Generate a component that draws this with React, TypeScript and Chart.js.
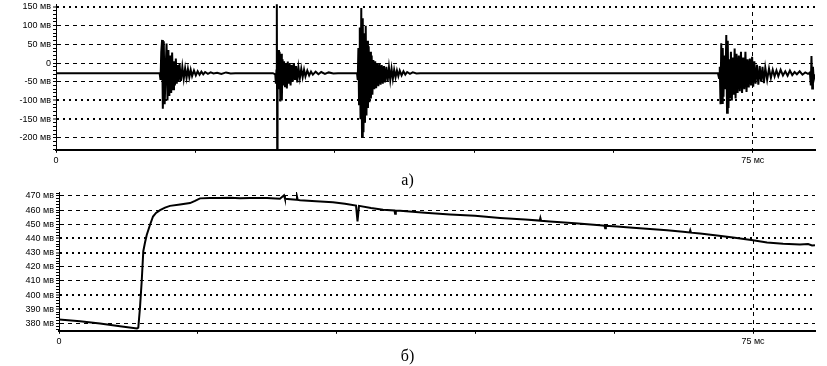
import React, { useEffect, useRef } from "react";
import { Chart, registerables } from "chart.js";

Chart.register(...registerables);

// ---------- data: top panel (а) — signal, mV vs ms ----------
const topStart: [number, number][] = [[0, -27]];
const burst1: [number, number][] = [
  [11.15, -27], [11.25, -45], [11.33, 30], [11.42, 62], [11.5, -122], [11.6, 58], [11.7, -110], [11.8, -20],
  [11.9, 52], [12.0, -100], [12.1, 35], [12.2, -88], [12.3, 20], [12.4, -80], [12.5, 28], [12.6, -70],
  [12.7, 5], [12.8, -60], [12.9, 12], [13.0, -55], [13.1, -5], [13.2, -50], [13.3, -2], [13.45, -48],
  [13.6, -10], [13.75, -42], [13.9, -14], [14.05, -40], [14.2, -16], [14.35, -38], [14.5, -18], [14.65, -35],
  [14.85, -20], [15.05, -33], [15.25, -22], [15.45, -31], [15.65, -23], [15.85, -30], [16.05, -24], [16.35, -29],
  [16.65, -25], [16.95, -28], [17.35, -26], [17.8, -29], [18.3, -25], [18.8, -28], [19.3, -27],
];
const burst2: [number, number][] = [
  [23.35, -27], [23.6, -30], [23.67, -55], [23.73, -20], [23.77, 157], [23.81, -232], [23.85, -40], [23.93, 35],
  [24.0, -70], [24.07, 30], [24.15, -103], [24.23, 25], [24.31, -100], [24.39, 10], [24.47, -60], [24.55, 5],
  [24.65, -62], [24.75, 0], [24.85, -68], [24.95, 4], [25.05, -55], [25.15, -2], [25.25, -60], [25.37, -5],
  [25.49, -50], [25.61, 0], [25.73, -45], [25.85, -8], [25.97, -52], [26.1, -12], [26.25, -40], [26.4, -15],
  [26.55, -38], [26.7, -18], [26.85, -36], [27.05, -20], [27.25, -33], [27.45, -23], [27.65, -31], [27.95, -23],
  [28.25, -30], [28.55, -24], [28.95, -29], [29.35, -25], [29.85, -28], [30.35, -27],
];
const burst3: [number, number][] = [
  [32.4, -27], [32.48, -45], [32.55, 40], [32.62, -110], [32.7, 95], [32.78, -150], [32.86, 147], [32.94, -197],
  [33.02, 120], [33.1, -185], [33.18, 80], [33.26, -160], [33.34, 100], [33.42, -140], [33.5, 60], [33.58, -120],
  [33.66, 45], [33.74, -105], [33.82, 30], [33.9, -95], [33.98, 20], [34.06, -85], [34.16, 8], [34.26, -70],
  [34.36, 5], [34.46, -67], [34.58, 0], [34.7, -62], [34.82, -2], [34.94, -58], [35.06, -5], [35.18, -55],
  [35.3, -8], [35.42, -52], [35.56, -10], [35.7, -48], [35.84, -12], [35.98, -45], [36.12, -15], [36.26, -42],
  [36.4, -18], [36.55, -38], [36.7, -20], [36.85, -35], [37.0, -20], [37.2, -33], [37.4, -22], [37.6, -31],
  [37.8, -24], [38.1, -29], [38.4, -25], [38.8, -28], [39.2, -27],
];
const burst4: [number, number][] = [
  [71.25, -27], [71.37, -40], [71.45, -10], [71.53, -110], [71.61, 53], [71.69, -107], [71.77, 40], [71.85, -90],
  [71.95, 20], [72.05, -70], [72.15, 75], [72.23, -133], [72.31, 60], [72.39, -120], [72.47, 10], [72.55, -95],
  [72.65, 30], [72.75, -100], [72.85, 15], [72.95, -85], [73.05, 39], [73.15, -95], [73.25, 25], [73.37, -80],
  [73.49, 20], [73.61, -75], [73.73, 30], [73.85, -80], [73.97, 15], [74.09, -70], [74.21, 30], [74.33, -77],
  [74.45, 10], [74.57, -65], [74.69, 12], [74.81, -60], [74.93, 17], [75.05, -63], [75.17, 5], [75.3, -55],
  [75.45, -5], [75.6, -58], [75.75, -8], [75.9, -50], [76.05, -10], [76.2, -54], [76.35, -12], [76.55, -45],
  [76.75, -15], [76.95, -40], [77.15, -18], [77.35, -36], [77.55, -20], [77.75, -35], [78.0, -18], [78.25, -33],
  [78.5, -22], [78.75, -34], [79.0, -20], [79.25, -32], [79.5, -24], [79.75, -30], [80.05, -22], [80.35, -31],
  [80.65, -25], [80.95, -29], [81.15, -25], [81.25, -60], [81.32, 19], [81.4, -68], [81.48, -10], [81.56, -45],
  [81.7, -30],
];

// ---------- data: bottom panel (б) — mV vs ms ----------
const bottomCurve: [number, number][] = [
  [0, 382.8], [2.27, 381.5], [4.43, 380], [6.59, 378], [8.43, 376.5], [8.57, 377], [8.75, 391], [8.94, 410],
  [9.11, 431], [9.29, 437], [9.48, 442.5], [9.83, 449.5], [10.16, 455.5], [10.48, 458], [10.92, 460],
  [11.46, 461.8], [11.99, 463], [13.08, 464], [14.16, 465], [14.7, 466.5], [15.24, 468.3], [16.32, 468.6],
  [17.4, 468.5], [18.48, 468.7], [19.56, 468.4], [20.64, 468.6], [22.48, 468.5], [23.88, 468], [24.32, 470.5],
  [24.42, 468], [25.65, 467.3], [25.72, 469.5], [25.8, 467.2], [26.05, 467], [27.77, 466.3], [29.6, 465.5],
  [30.9, 464.5], [32.1, 463.2], [32.26, 452], [32.42, 463], [33.72, 461.5], [35.02, 460.3], [36.25, 459.8],
  [36.32, 457.5], [36.4, 459.7], [36.85, 459.5], [39.55, 458.2], [42.26, 457], [44.96, 456], [47.66, 454.5],
  [50.36, 453.3], [51.95, 452.6], [52.02, 454.5], [52.1, 452.5], [53.06, 452], [55.77, 450.7], [58.46, 449.3],
  [58.95, 449], [59.02, 447.2], [59.1, 448.9], [60.3, 448.4], [62.03, 447.5], [63.87, 446.7], [65.71, 445.8],
  [67.44, 444.7], [68.15, 444.2], [68.22, 445.8], [68.3, 444.1], [69.28, 443.5], [71.11, 442.1], [72.84, 440.7],
  [75.0, 438.8], [76.52, 437.2], [78.25, 436.3], [80.08, 435.8], [80.95, 436], [81.38, 435], [81.7, 435.2],
];

// ---------- axes ----------
const X_MAX = 81.7;
const xTickValues = [0, 15, 30, 45, 60, 75];
const xTickLabels = ["0", "", "", "", "", "75 мс"];
const xGridValue = 75;

const topYMajor = [150, 100, 50, 0, -50, -100, -150, -200];
const topYLabels = ["150 мв", "100 мв", "50 мв", "0", "-50 мв", "-100 мв", "-150 мв", "-200 мв"];
const topYDotted = [true, false, false, false, false, true, true, false];

const bottomYMajor = [470, 460, 450, 440, 430, 420, 410, 400, 390, 380];
const bottomYLabels = ["470 мв", "460 мв", "450 мв", "440 мв", "430 мв", "420 мв", "410 мв", "400 мв", "390 мв", "380 мв"];
const bottomYDotted = [false, false, false, true, true, false, false, true, true, false];

const TICK_FONT = { family: '"Liberation Sans", Arial, sans-serif', size: 9 };

type PanelCfg = {
  points: [number, number][];
  yMin: number;
  yMax: number;
  majors: number[];
  labels: string[];
  dotted: boolean[];
  minorFrom: number;
  minorTo: number;
  minorStep: number;
  yAxisWidth: number;
  padTop: number;
  xAxisHeight: number;
  caption: string;
  lineWidth: number;
};

function buildChart(canvas: HTMLCanvasElement, cfg: PanelCfg) {
  const isMajor = (v: any) => cfg.majors.indexOf(v) >= 0;
  return new Chart(canvas, {
    type: "line",
    data: {
      datasets: [
        {
          data: cfg.points.map(([x, y]) => ({ x, y })),
          borderColor: "#000",
          backgroundColor: "#000",
          borderWidth: cfg.lineWidth,
          pointRadius: 0,
          tension: 0,
          fill: false,
        },
      ],
    },
    options: {
      animation: false,
      responsive: false,
      devicePixelRatio: 1,
      events: [],
      layout: { padding: { top: cfg.padTop, right: 12, left: 0, bottom: 0 } },
      plugins: {
        legend: { display: false },
        tooltip: { enabled: false },
        title: {
          display: true,
          text: cfg.caption,
          position: "bottom",
          color: "#000",
          font: { family: '"Liberation Serif", "Times New Roman", serif', size: 16, weight: "normal" },
          padding: { top: 0, bottom: 0 },
        },
      },
      scales: {
        x: {
          type: "linear",
          min: 0,
          max: X_MAX,
          afterBuildTicks: (scale: any) => {
            scale.ticks = xTickValues.map((v) => ({ value: v }));
          },
          afterFit: (scale: any) => {
            scale.height = cfg.xAxisHeight;
            scale.paddingLeft = 0;
            scale.paddingRight = 0;
          },
          ticks: {
            autoSkip: false,
            maxRotation: 0,
            padding: 2,
            color: "#000",
            font: TICK_FONT,
            callback: (value: any) => {
              const i = xTickValues.indexOf(value);
              return i >= 0 ? xTickLabels[i] : "";
            },
          },
          grid: {
            color: (ctx: any) => (ctx.tick && ctx.tick.value === xGridValue ? "#000" : "rgba(0,0,0,0)"),
            lineWidth: 1,
            tickColor: "#000",
            tickWidth: 1,
            tickLength: 3,
          },
          border: { display: true, color: "#000", width: 2, dash: [4, 4] },
        },
        y: {
          type: "linear",
          min: cfg.yMin,
          max: cfg.yMax,
          afterBuildTicks: (scale: any) => {
            const list: number[] = [];
            for (let v = cfg.minorFrom; v <= cfg.minorTo + 1e-9; v += cfg.minorStep) list.push(Math.round(v * 1000) / 1000);
            cfg.majors.forEach((m) => {
              if (list.indexOf(m) < 0) list.push(m);
            });
            list.sort((a, b) => a - b);
            scale.ticks = list.map((v) => ({ value: v }));
          },
          afterFit: (scale: any) => {
            scale.width = cfg.yAxisWidth;
            scale.paddingTop = 0;
            scale.paddingBottom = 0;
          },
          ticks: {
            autoSkip: false,
            padding: 2,
            color: "#000",
            font: TICK_FONT,
            callback: (value: any) => {
              const i = cfg.majors.indexOf(value);
              return i >= 0 ? cfg.labels[i] : "";
            },
          },
          grid: {
            color: (ctx: any) => (ctx.tick && isMajor(ctx.tick.value) ? "#000" : "rgba(0,0,0,0)"),
            lineWidth: (ctx: any) => {
              const i = ctx.tick ? cfg.majors.indexOf(ctx.tick.value) : -1;
              return i >= 0 && cfg.dotted[i] ? 2 : 1;
            },
            tickColor: "#000",
            tickWidth: 1,
            tickLength: 3,
          },
          border: {
            display: true,
            color: "#000",
            width: 1,
            dash: (ctx: any) => {
              const i = ctx && ctx.tick ? cfg.majors.indexOf(ctx.tick.value) : -1;
              return i >= 0 && cfg.dotted[i] ? [2, 4] : [4, 4];
            },
          },
        },
      },
    } as any,
  });
}

function Panel({ cfg, top, height }: { cfg: PanelCfg; top: number; height: number }) {
  const ref = useRef<HTMLCanvasElement | null>(null);
  useEffect(() => {
    if (!ref.current) return;
    const chart = buildChart(ref.current, cfg);
    return () => chart.destroy();
  }, []);
  return (
    <canvas
      ref={ref}
      width={827}
      height={height}
      style={{ position: "absolute", left: 0, top, width: 827, height, display: "block" }}
    />
  );
}

const topCfg: PanelCfg = {
  points: [...topStart, ...burst1, ...burst2, ...burst3, ...burst4],
  yMin: -232,
  yMax: 158,
  majors: topYMajor,
  labels: topYLabels,
  dotted: topYDotted,
  minorFrom: -230,
  minorTo: 150,
  minorStep: 10,
  yAxisWidth: 56,
  padTop: 4,
  xAxisHeight: 21,
  caption: "а)",
  lineWidth: 2,
};

const bottomCfg: PanelCfg = {
  points: bottomCurve,
  yMin: 374.8,
  yMax: 472.8,
  majors: bottomYMajor,
  labels: bottomYLabels,
  dotted: bottomYDotted,
  minorFrom: 376,
  minorTo: 472,
  minorStep: 2,
  yAxisWidth: 59,
  padTop: 2,
  xAxisHeight: 16,
  caption: "б)",
  lineWidth: 2,
};

export default function App() {
  return (
    <div style={{ position: "absolute", left: 0, top: 0, width: 827, height: 366, background: "#fff", overflow: "hidden" }}>
      <Panel cfg={topCfg} top={0} height={190} />
      <Panel cfg={bottomCfg} top={190} height={176} />
    </div>
  );
}
